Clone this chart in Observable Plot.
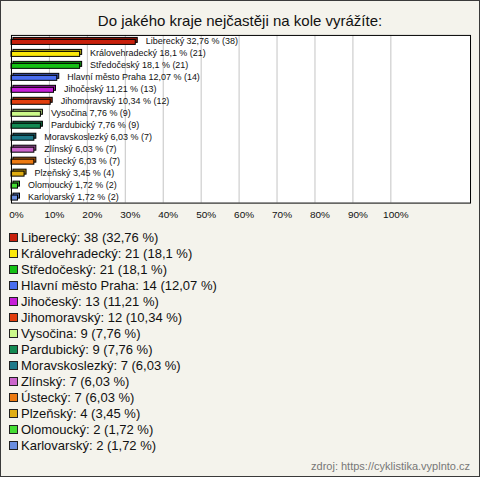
<!DOCTYPE html>
<html>
<head>
<meta charset="utf-8">
<script src="https://cdn.jsdelivr.net/npm/d3@7"></script>
<script src="https://cdn.jsdelivr.net/npm/@observablehq/plot@0.6"></script>
<style>
  html, body { margin: 0; padding: 0; background: #f4f3ec; }
  #wrap { position: relative; width: 480px; height: 477px; box-sizing: border-box; border: 1px solid #3a3a3a; background: #f4f3ec; font-family: "Liberation Sans", Arial, sans-serif; overflow: hidden; }
  #title { position: absolute; left: -1px; top: 10px; width: 480px; text-align: center; font-size: 15px; color: #111; line-height: 20px; }
  #chart { position: absolute; left: -1px; top: -1px; }
  #legend { position: absolute; left: 8px; top: 0; }
  .row { position: absolute; left: 0; white-space: nowrap; font-size: 13px; line-height: 16px; color: #111; }
  .sw { display: inline-block; width: 7px; height: 7px; border: 1px solid #222; margin-right: 3px; vertical-align: 0px; }
  #src { position: absolute; right: 9px; top: 458px; font-size: 11px; color: #777; line-height: 14px; }
</style>
</head>
<body>
<div id="wrap">
  <div id="chart"></div>
  <div id="title">Do jakého kraje nejčastěji na kole vyrážíte:</div>
  <div id="legend"></div>
  <div id="src">zdroj: https://cyklistika.vyplnto.cz</div>
</div>
<script>
const names = ["Liberecký","Královehradecký","Středočeský","Hlavní město Praha","Jihočeský","Jihomoravský","Vysočina","Pardubický","Moravskoslezký","Zlínský","Ústecký","Plzeňský","Olomoucký","Karlovarský"];
const counts = [38,21,21,14,13,12,9,9,7,7,7,4,2,2];
const pcts = [32.76,18.1,18.1,12.07,11.21,10.34,7.76,7.76,6.03,6.03,6.03,3.45,1.72,1.72];
const colors = ["#c8200c","#fbe80a","#14c014","#4a6ef0","#c61ed8","#e23e0e","#ccfa8a","#138a52","#1f7a8a","#cc66cc","#ec7a12","#e0ad12","#44dd33","#6a8ee0"];
const xTicks = [0,10,20,30,40,50,60,70,80,90,100];

const fmt = v => String(v).replace(".", ",");
const data = names.map((n, i) => ({name: n, count: counts[i], pct: pcts[i]}));
const colorOf = new Map(names.map((n, i) => [n, colors[i]]));
const darker = n => d3.color(colorOf.get(n)).darker(0.9).formatHex();

const chart = Plot.plot({
  width: 480,
  height: 225,
  marginLeft: 11,
  marginRight: 9,
  marginTop: 35,
  marginBottom: 22,
  style: {background: "transparent", fontFamily: "'Liberation Sans', Arial, sans-serif"},
  x: {domain: [0, 121], axis: null, label: null},
  y: {domain: names, padding: 0, axis: null},
  color: {domain: names, range: colors},
  marks: [
    Plot.frame({fill: "white"}),
    Plot.ruleX(xTicks.slice(1), {stroke: "#c4c4c4", strokeWidth: 1}),
    Plot.barX(data, {x: "pct", y: "name", fill: d => darker(d.name), stroke: "#000", strokeWidth: 1, insetTop: 4.5, insetBottom: 2.5, dx: 2, dy: -2}),
    Plot.barX(data, {x: "pct", y: "name", fill: "name", stroke: "#000", strokeWidth: 1, insetTop: 4.5, insetBottom: 2.5}),
    Plot.text(data, {x: "pct", y: "name", text: d => `${d.name} ${fmt(d.pct)} % (${d.count})`, textAnchor: "start", dx: 10, fontSize: 9, fill: "#111"}),
    Plot.frame({stroke: "#000", strokeWidth: 1}),
    Plot.axisX(xTicks, {tickSize: 0, tickPadding: 8, tickFormat: d => d + "%", fontSize: 10, dx: 5, fill: "#111", label: null})
  ]
});
document.getElementById("chart").appendChild(chart);

const legend = document.getElementById("legend");
names.forEach((n, i) => {
  const row = document.createElement("div");
  row.className = "row";
  row.style.top = (229.5 - 1 + i * 16) + "px";
  const sw = document.createElement("span");
  sw.className = "sw";
  sw.style.background = colors[i];
  row.appendChild(sw);
  row.appendChild(document.createTextNode(`${n}: ${counts[i]} (${fmt(pcts[i])} %)`));
  legend.appendChild(row);
});
</script>
</body>
</html>
